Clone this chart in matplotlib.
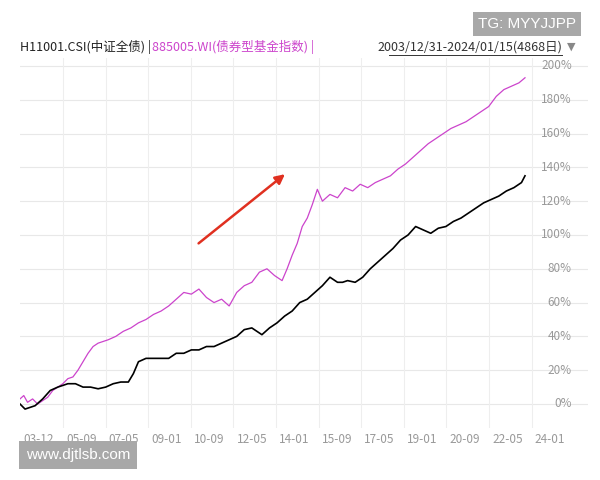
import matplotlib
matplotlib.use("Agg")
import matplotlib.pyplot as plt

plt.rcParams['font.family'] = ['Noto Sans CJK SC', 'DejaVu Sans']

# x in years since 2003-12-31
bx = [0.0,0.2,0.4,0.6,0.9,1.2,1.5,1.7,1.9,2.2,2.5,2.8,3.1,3.4,3.7,4.0,4.3,4.5,4.7,4.85,5.0,5.3,5.6,5.9,6.2,6.5,6.8,7.1,7.4,7.7,8.0,8.3,8.6,8.9,9.2,9.4,9.6,9.9,10.2,10.5,10.8,11.1,11.4,11.7,12.0,12.3,12.6,12.8,13.0,13.3,13.6,13.9,14.2,14.5,14.8,15.1,15.4,15.7,16.0,16.3,16.6,16.9,17.2,17.5,17.8,18.1,18.4,18.7,19.0,19.3,19.6,19.9,20.04]
by = [0,-3,-2,-1,3,8,10,11,12,12,10,10,9,10,12,13,13,18,25,26,27,27,27,27,30,30,32,32,34,34,36,38,40,44,45,43,41,45,48,52,55,60,62,66,70,75,72,72,73,72,75,80,84,88,92,97,100,105,103,101,104,105,108,110,113,116,119,121,123,126,128,131,135]
mx = [0.0,0.15,0.3,0.5,0.7,0.9,1.1,1.3,1.5,1.7,1.9,2.1,2.3,2.5,2.7,2.9,3.1,3.3,3.5,3.8,4.1,4.4,4.7,5.0,5.3,5.6,5.9,6.2,6.5,6.8,7.1,7.4,7.7,8.0,8.3,8.6,8.9,9.2,9.5,9.8,10.1,10.4,10.6,10.8,11.0,11.2,11.4,11.6,11.8,12.0,12.3,12.6,12.9,13.2,13.5,13.8,14.1,14.4,14.7,15.0,15.3,15.6,15.9,16.2,16.5,16.8,17.1,17.4,17.7,18.0,18.3,18.6,18.9,19.2,19.5,19.8,20.04]
my = [3,5,1,3,0,2,4,8,10,12,15,16,20,25,30,34,36,37,38,40,43,45,48,50,53,55,58,62,66,65,68,63,60,62,58,66,70,72,78,80,76,73,80,88,95,105,110,118,127,120,124,122,128,126,130,128,131,133,135,139,142,146,150,154,157,160,163,165,167,170,173,176,182,186,188,190,193]

tick_labels = ["03-12","05-09","07-05","09-01","10-09","12-05","14-01","15-09","17-05","19-01","20-09","22-05","24-01"]
y_ticks = [0,20,40,60,80,100,120,140,160,180,200]

fig = plt.figure(figsize=(6,4.8), dpi=100)
ax = fig.add_axes([20/600, 52/480, 568/600, 370/480])
ax.set_xlim(0, 22.54)
ax.set_ylim(-14.2, 204.7)
for s in ax.spines.values():
    s.set_visible(False)
ax.set_yticks([]); ax.set_xticks([])
for v in y_ticks:
    ax.axhline(v, color='#e8e8e8', lw=0.8, zorder=0)
    ax.text(21.9, v, f"{v}%", ha='right', va='center', fontsize=8.5, color='#999999')
for k in range(12):
    ax.axvline(1.71+1.69*k, color='#eeeeee', lw=0.8, zorder=0)
for k, lab in enumerate(tick_labels):
    ax.text(0.75+1.69*k, -21, lab, ha='center', va='center', fontsize=8.5, color='#999999', clip_on=False)
ax.plot(mx, my, color='#cc44cc', lw=0.9)
ax.plot(bx, by, color='black', lw=1.2)
ax.annotate('', xy=(10.6, 137), xytext=(7.0, 94),
            arrowprops=dict(arrowstyle='-|>', color='#e03020', lw=1.8, mutation_scale=14))

fig.text(20/600, 1-47/480, "H11001.CSI(中证全债) | ", fontsize=9, color='#222222', va='center')
fig.text(152/600, 1-47/480, "885005.WI(债券型基金指数) |", fontsize=9, color='#cc44cc', va='center')
fig.text(562/600, 1-47/480, "2003/12/31-2024/01/15(4868日)", fontsize=9, color='#333333', va='center', ha='right')
fig.add_artist(plt.Line2D([389/600, 562/600], [1-55/480, 1-55/480], color='#333333', lw=0.7))
fig.text(575/600, 1-47/480, "▼", fontsize=8, color='#888888', va='center', ha='right', family='DejaVu Sans')
fig.text(527/600, 1-24/480, "TG: MYYJJPP", fontsize=11, color='white', ha='center', va='center',
         family='Liberation Sans', bbox=dict(boxstyle='square,pad=0.35', fc='#a8a8a8', ec='none'))
fig.text(78/600, 1-455/480, "www.djtlsb.com", fontsize=11, color='white', ha='center', va='center',
         family='Liberation Sans', bbox=dict(boxstyle='square,pad=0.45', fc='#a8a8a8', ec='none'))
fig.savefig("out.png", dpi=100)
